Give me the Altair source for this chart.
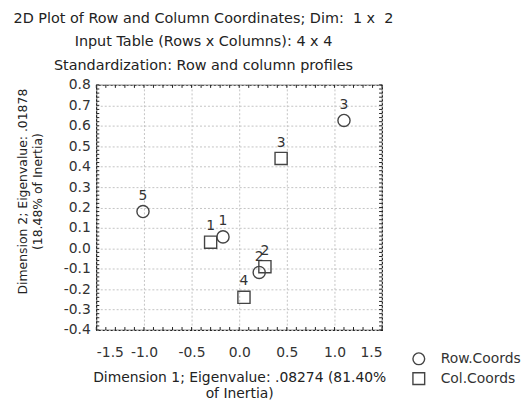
import altair as alt
import pandas as pd

row_labels = ["1", "2", "3", "5"]
row_x = [-0.17, 0.21, 1.10, -1.01]
row_y = [0.056, -0.118, 0.626, 0.18]

col_labels = ["1", "2", "3", "4"]
col_x = [-0.30, 0.27, 0.44, 0.05]
col_y = [0.03, -0.09, 0.44, -0.24]

x_ticks = [-1.5, -1.0, -0.5, 0.0, 0.5, 1.0, 1.5]
y_ticks = [-0.4, -0.3, -0.2, -0.1, 0.0, 0.1, 0.2, 0.3, 0.4, 0.5, 0.6, 0.7, 0.8]
x_minor = [round(-1.5 + 0.1 * i, 2) for i in range(31)]
y_minor = [round(-0.4 + 0.02 * i, 2) for i in range(61)]

W, H = 288, 247
FONT = "DejaVu Sans"
NB = "\u00a0"
LBL = "replace(format(datum.value, '.1f'), '\u2212', '-')"

pts = pd.DataFrame({
    "x": row_x + col_x,
    "y": row_y + col_y,
    "label": row_labels + col_labels,
    "series": ["Row.Coords"] * 4 + ["Col.Coords"] * 4,
})

xscale = alt.Scale(domain=[-1.5, 1.5], nice=False, zero=False)
yscale = alt.Scale(domain=[-0.4, 0.8], nice=False, zero=False)
xaxis = alt.Axis(values=x_ticks, labelExpr=LBL, ticks=False, domain=False, labelOverlap=False,
                 title=["Dimension 1; Eigenvalue: .08274 (81.40%", "of Inertia)"],
                 labelPadding=16, titlePadding=11, titleFontSize=14, titleLineHeight=16.5)
yaxis = alt.Axis(values=y_ticks, labelExpr=LBL, ticks=False, domain=False, labelOverlap=False,
                 title=["Dimension 2; Eigenvalue: .01878", "(18.48% of Inertia)"],
                 labelPadding=6, titlePadding=19, titleFontSize=12.5, titleLineHeight=15,
                 titleY=107)

X = alt.X("x:Q", scale=xscale, axis=xaxis)
Y = alt.Y("y:Q", scale=yscale, axis=yaxis)

points = alt.Chart(pts).mark_point(filled=False, strokeWidth=1.4, color="#444", opacity=1).encode(
    x=X, y=Y,
    shape=alt.Shape("series:N",
                    scale=alt.Scale(domain=["Row.Coords", "Col.Coords"], range=["circle", "square"]),
                    legend=alt.Legend(title=None, orient="none", legendX=318, legendY=269,
                                      labelFontSize=14, labelFont=FONT, labelColor="#333",
                                      symbolSize=140, symbolStrokeColor="#444", symbolStrokeWidth=1.4,
                                      symbolFillColor="transparent", rowPadding=2, labelOffset=15)),
    size=alt.value(150),
)

labels = alt.Chart(pts).mark_text(dy=-16, fontSize=14, font=FONT, color="#333").encode(
    x=X, y=Y, text="label:N"
)

xm = pd.DataFrame({"x": x_minor})
ym = pd.DataFrame({"y": y_minor})
tick_style = dict(color="#222", strokeWidth=1)
top_t = alt.Chart(xm).mark_rule(**tick_style).encode(x=X, y=alt.value(0), y2=alt.value(3))
bot_t = alt.Chart(xm).mark_rule(**tick_style).encode(x=X, y=alt.value(H), y2=alt.value(H - 3))
left_t = alt.Chart(ym).mark_rule(**tick_style).encode(y=Y, x=alt.value(0), x2=alt.value(3))
right_t = alt.Chart(ym).mark_rule(**tick_style).encode(y=Y, x=alt.value(W), x2=alt.value(W - 3))

chart = alt.layer(top_t, bot_t, left_t, right_t, points, labels).properties(
    width=W, height=H,
    background="white",
    autosize=alt.AutoSizeParams(type="none"),
    padding={"left": 89, "top": 76, "right": 140, "bottom": 69},
    title=alt.TitleParams(
        [f"2D Plot of Row and Column Coordinates; Dim:{NB}{NB}1 x{NB}{NB}2",
         "Input Table (Rows x Columns): 4 x 4",
         "Standardization: Row and column profiles"],
        fontSize=14.5, font=FONT, fontWeight="normal", color="#222",
        lineHeight=23.5, anchor="middle", dx=-36, offset=5,
    ),
).configure_view(stroke="#222", strokeWidth=1.2).configure_axis(
    labelFontSize=14, labelFont=FONT, labelColor="#333",
    titleFontSize=13, titleFont=FONT, titleColor="#222", titleFontWeight="normal",
    gridColor="#c4c4c4", gridDash=[2, 2], gridWidth=1,
)

chart.save("out.html", embed_options={"renderer": "svg", "actions": False})
